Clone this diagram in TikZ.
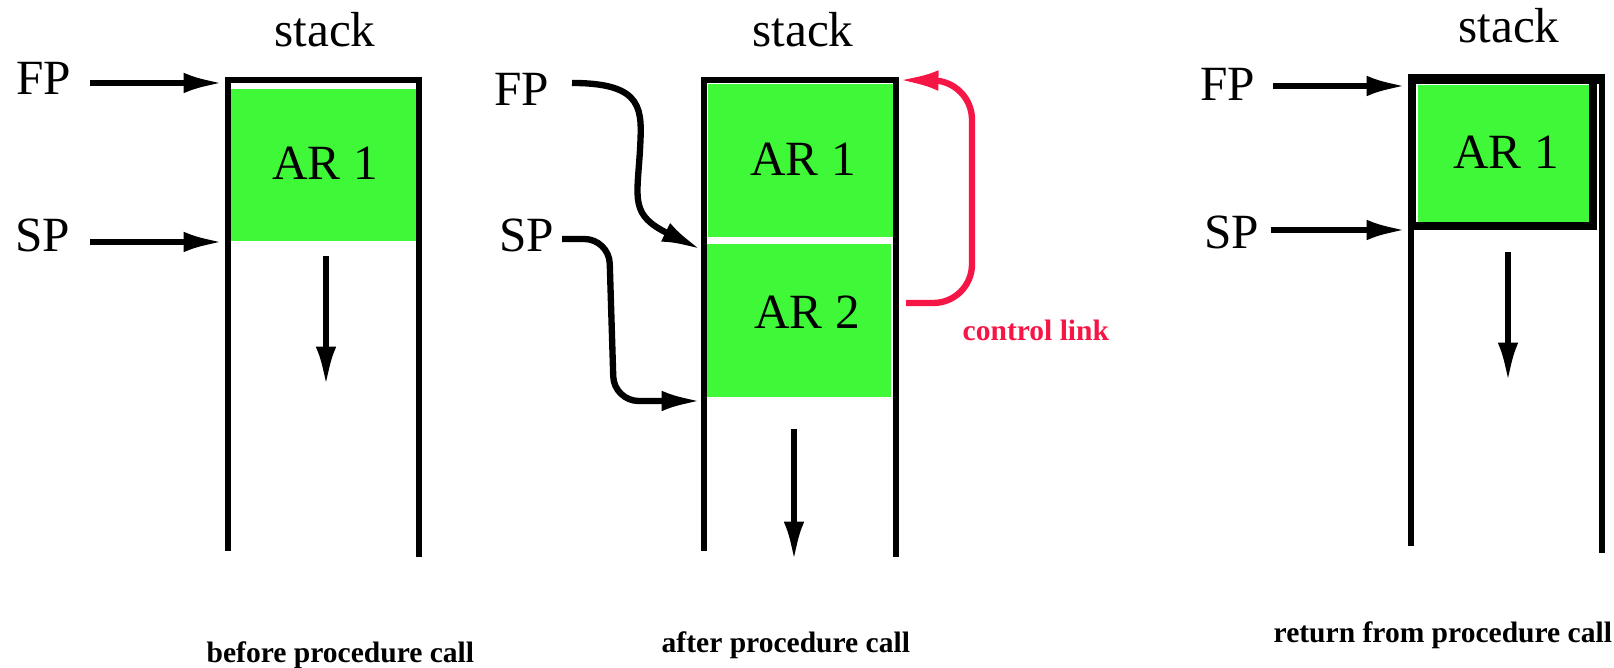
\documentclass[tikz,border=0pt]{standalone}
\usepackage{fontspec}
\setmainfont{Liberation Serif}
\usetikzlibrary{arrows.meta}
\definecolor{argreen}{RGB}{63,249,56}
\definecolor{linkred}{RGB}{245,22,70}
\tikzset{
  wall/.style = {line width=1.5pt},
  pointer/.style = {line width=1.8pt, -{Latex[length=11.5pt,width=5.8pt]}},
  record/.style = {fill=argreen, draw=none},
  big text/.style = {font=\fontsize{14}{16}\selectfont, inner sep=0pt},
  caption/.style = {font=\fontsize{8.4}{10}\selectfont\bfseries, inner sep=0pt},
}

\begin{document}
\begin{tikzpicture}[x=0.01cm, y=-0.01cm]
            \useasboundingbox (0,0) rectangle (1614,668);

            % before procedure call
            \fill[record] (231,89) rectangle (416,241);
            \draw[wall] (228,551) -- (228,80) -- (419,80) -- (419,557);
            \node[big text] (stack1) at (325,30) {stack};
            \node[big text] (ar1) at (325,163) {AR 1};
            \node[big text] (fp1) at (44,78) {FP};
            \node[big text] (sp1) at (43,235) {SP};
            \coordinate (fp1 from) at (90,83);
            \coordinate (fp1 to) at (224,83);
            \coordinate (sp1 from) at (90,242);
            \coordinate (sp1 to) at (224,242);
            \coordinate (grow1 top) at (326,256);
            \coordinate (grow1 end) at (326,387);
            \draw[pointer] (fp1 from) -- (fp1 to);
            \draw[pointer] (sp1 from) -- (sp1 to);
            \draw[pointer] (grow1 top) -- (grow1 end);
            \node[caption, anchor=west] (cap1) at (206,655) {before procedure call};

            % after procedure call
            \fill[record] (708,84) rectangle (893,237);
            \fill[record] (707,244) rectangle (891,397);
            \draw[wall] (704,551) -- (704,80) -- (896,80) -- (896,557);
            \node[big text] (stack2) at (803,30) {stack};
            \node[big text] (ar21) at (803,159) {AR 1};
            \node[big text] (ar22) at (807,312) {AR 2};
            \node[big text] (fp2) at (522,89) {FP};
            \node[big text] (sp2) at (527,235) {SP};
            \coordinate (fp2 from) at (572,83);
            \coordinate (fp2 to) at (702,250);
            \coordinate (sp2 from) at (562,239);
            \coordinate (sp2 to) at (702,401);
            \coordinate (link from) at (906,303);
            \coordinate (link to) at (898,80);
            \coordinate (grow2 top) at (794,429);
            \coordinate (grow2 end) at (794,562);
            \draw[pointer] (fp2 from) .. controls (645,83) and (642,110) .. (640,150)
                                      .. controls (637,200) and (630,215) .. (fp2 to);
            \draw[pointer, rounded corners=7pt] (sp2 from) -- (609,239) -- (614,401) -- (sp2 to);
            \draw[pointer, linkred, rounded corners=11pt] (link from) -- (972,303) -- (972,81) -- (link to);
            \draw[pointer] (grow2 top) -- (grow2 end);
            \node[caption, text=linkred, anchor=west] (link) at (962,330) {control link};
            \node[caption, anchor=west] (cap2) at (661,645) {after procedure call};

            % return from procedure call
            \fill[record] (1418,85) rectangle (1590,224);
            \draw[wall] (1411,546) -- (1411,79);
            \draw[wall] (1602,79) -- (1602,553);
            \draw[line width=2.2pt] (1412,79) rectangle (1593,226);
            \draw[line width=3pt] (1408,79) -- (1605,79);
            \node[big text] (stack3) at (1509,26) {stack};
            \node[big text] (ar3) at (1506,152) {AR 1};
            \node[big text] (fp3) at (1228,84) {FP};
            \node[big text] (sp3) at (1232,232) {SP};
            \coordinate (fp3 from) at (1273,86);
            \coordinate (fp3 to) at (1407,86);
            \coordinate (sp3 from) at (1271,230);
            \coordinate (sp3 to) at (1407,230);
            \coordinate (grow3 top) at (1508,252);
            \coordinate (grow3 end) at (1508,383);
            \draw[pointer] (fp3 from) -- (fp3 to);
            \draw[pointer] (sp3 from) -- (sp3 to);
            \draw[pointer] (grow3 top) -- (grow3 end);
            \node[caption, anchor=west] (cap3) at (1273,635) {return from procedure call};
\end{tikzpicture}
\end{document}
